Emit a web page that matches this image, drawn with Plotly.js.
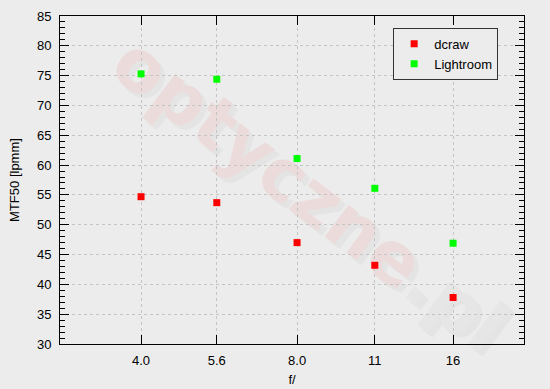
<!DOCTYPE html>
<html>
<head>
<meta charset="utf-8">
<script src="https://cdn.plot.ly/plotly-3.0.1.min.js"></script>
<style>html,body{margin:0;padding:0;background:#ececec;}#chart{width:550px;height:389px;}</style>
</head>
<body>
<div id="chart"></div>
<script>
// f-stops (positions on log axis) and their printed labels
var fStops = [4, 5.6, 8, 11.3, 16];
var fLabels = ['4.0', '5.6', '8.0', '11', '16'];
// MTF50 values [lpmm]
var dcraw = [54.7, 53.7, 47.0, 43.2, 37.8];
var lightroom = [75.3, 74.4, 61.1, 56.1, 46.9];

var fontFam = 'Liberation Sans, Arial, sans-serif';

var traces = [
  {x: fStops, y: dcraw, name: 'dcraw', type: 'scatter', mode: 'markers',
   marker: {symbol: 'square', size: 7, color: '#ff0000', line: {width: 0}}},
  {x: fStops, y: lightroom, name: 'Lightroom', type: 'scatter', mode: 'markers',
   marker: {symbol: 'square', size: 7, color: '#00ff00', line: {width: 0}}}
];

function wm(txt, x0, y0, color) {
  return {type: 'rect', xref: 'paper', yref: 'paper', x0: x0, x1: x0 + 0.1, y0: y0, y1: y0 + 0.06,
    layer: 'below', line: {width: 0}, fillcolor: 'rgba(0,0,0,0)',
    label: {text: txt, textangle: 37, textposition: 'middle center',
            font: {family: 'DejaVu Sans', size: 72, weight: 'bold', color: color}}};
}

var layout = {
  width: 550, height: 389,
  margin: {l: 60, r: 26, t: 16, b: 45},
  paper_bgcolor: '#ececec',
  plot_bgcolor: '#ececec',
  font: {family: fontFam, size: 13, color: '#000'},
  showlegend: true,
  legend: {x: 0.718, y: 0.964, xanchor: 'left', yanchor: 'top',
           bgcolor: '#ececec', bordercolor: '#333', borderwidth: 1,
           font: {family: fontFam, size: 13}, itemwidth: 30, tracegroupgap: 0},
  xaxis: {
    type: 'log', range: [0.4457, 1.3409],
    tickvals: fStops, ticktext: fLabels,
    ticks: 'inside', ticklen: 9, tickcolor: '#000', tickwidth: 1,
    showline: true, linecolor: '#000', linewidth: 1, mirror: 'ticks',
    showgrid: true, gridcolor: '#c4c4c4', griddash: 'dot', gridwidth: 1,
    zeroline: false, ticklabelstandoff: 4,
    title: {text: 'f/', font: {family: fontFam, size: 13}, standoff: 8}
  },
  yaxis: {
    range: [30, 85], dtick: 5, tick0: 30,
    ticks: 'inside', ticklen: 9, tickcolor: '#000', tickwidth: 1,
    minor: {dtick: 1, ticks: 'inside', ticklen: 5, tickcolor: '#000', showgrid: false},
    showline: true, linecolor: '#000', linewidth: 1, mirror: 'ticks',
    showgrid: true, gridcolor: '#c4c4c4', griddash: 'dot', gridwidth: 1,
    zeroline: false, ticklabelstandoff: 5,
    title: {text: 'MTF50 [lpmm]', font: {family: fontFam, size: 13}, standoff: 14}
  },
  shapes: [
    wm('optyczne.pl', 0.505, 0.425, '#e4e4e4'),
    wm('optyczne<span style="color:#e6e6e6">.pl</span>', 0.495, 0.44, '#ecdbdb')
  ]
};

Plotly.newPlot('chart', traces, layout, {displayModeBar: false, staticPlot: true});
</script>
</body>
</html>
